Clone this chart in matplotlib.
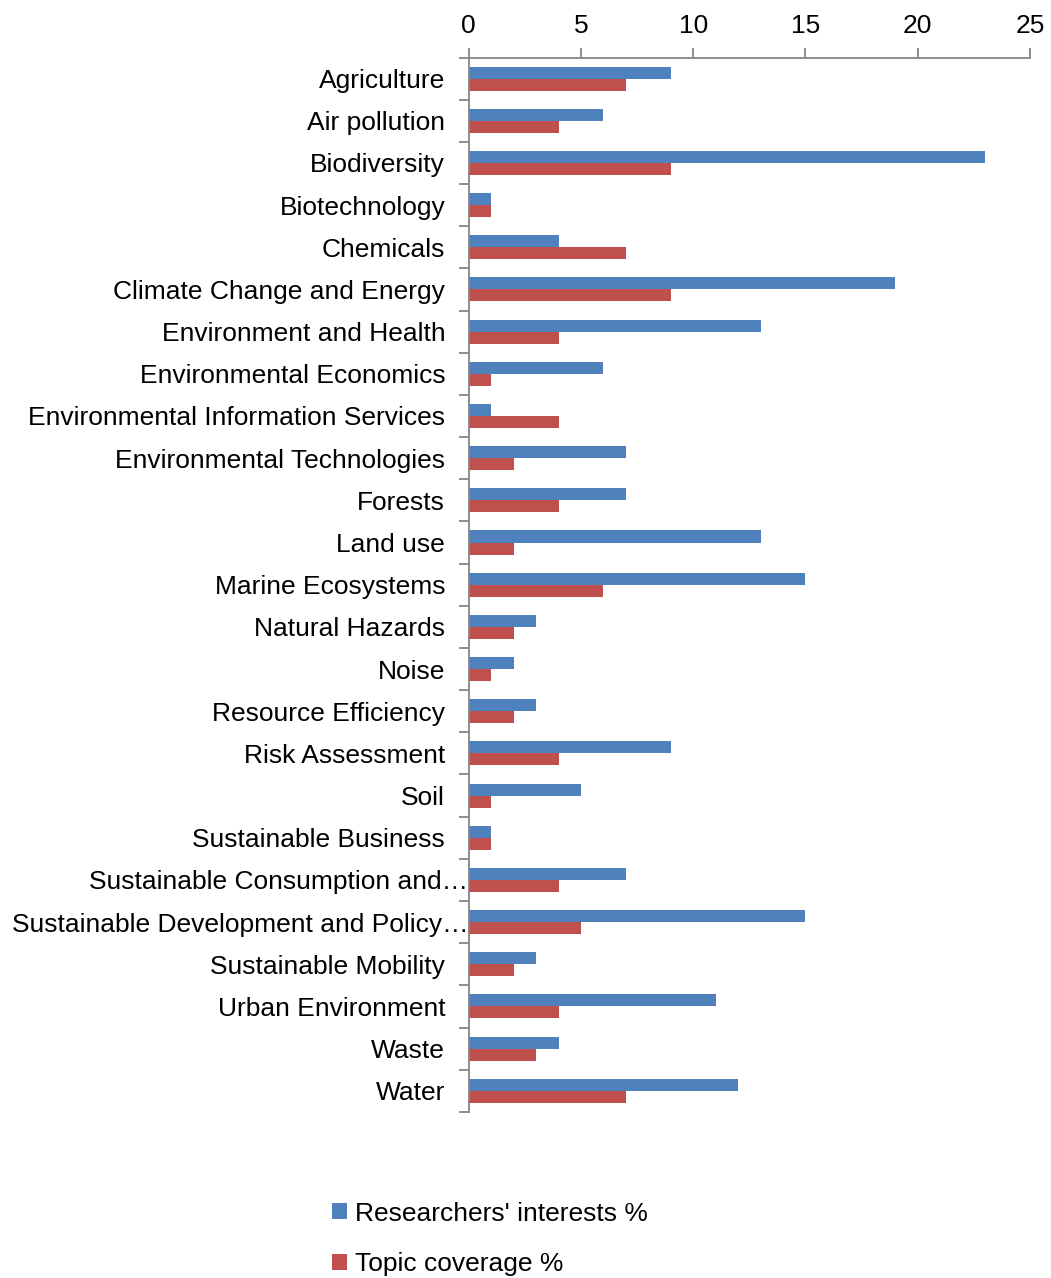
import numpy as np
import matplotlib.pyplot as plt
from matplotlib.transforms import ScaledTranslation

plt.rcParams['font.family'] = ['Liberation Sans', 'DejaVu Sans']

topics = ["Agriculture", "Air pollution", "Biodiversity", "Biotechnology", "Chemicals",
          "Climate Change and Energy", "Environment and Health", "Environmental Economics",
          "Environmental Information Services", "Environmental Technologies", "Forests",
          "Land use", "Marine Ecosystems", "Natural Hazards", "Noise", "Resource Efficiency",
          "Risk Assessment", "Soil", "Sustainable Business", "Sustainable Consumption and\u2026",
          "Sustainable Development and Policy\u2026", "Sustainable Mobility",
          "Urban Environment", "Waste", "Water"]
interests = [9, 6, 23, 1, 4, 19, 13, 6, 1, 7, 7, 13, 15, 3, 2, 3, 9, 5, 1, 7, 15, 3, 11, 4, 12]
coverage = [7, 4, 9, 1, 7, 9, 4, 1, 4, 2, 4, 2, 6, 2, 1, 2, 4, 1, 1, 4, 5, 2, 4, 3, 7]

blue = "#4F81BD"
red = "#C0504D"
grey = "#868686"

fig = plt.figure(figsize=(10.51, 12.78), dpi=100)
ax = fig.add_axes([0.446, 0.130, 0.534, 0.825])

y = np.arange(len(topics))
h = 0.285
ax.barh(y - h / 2, interests, height=h, color=blue, label="Researchers' interests %")
ax.barh(y + h / 2, coverage, height=h, color=red, label="Topic coverage %")

ax.set_ylim(len(topics) - 0.5, -0.5)
ax.set_xlim(0, 25)
ax.set_xticks([0, 5, 10, 15, 20, 25])
ax.xaxis.tick_top()
ax.set_yticks(y)
ax.set_yticklabels(topics)
ax.set_yticks(np.arange(len(topics) + 1) - 0.5, minor=True)
ax.tick_params(axis='y', which='major', length=0, pad=17, labelsize=19)
ax.tick_params(axis='y', which='minor', length=7, color=grey, width=1.3)
ax.tick_params(axis='x', length=7, color=grey, width=1.3, labelsize=19, pad=7)

# truncated labels run right up to the axis
for lab in ax.get_yticklabels():
    if lab.get_text().endswith("\u2026"):
        lab.set_transform(lab.get_transform() + ScaledTranslation(0.23, 0, fig.dpi_scale_trans))

for s in ['right', 'bottom']:
    ax.spines[s].set_visible(False)
for s in ['top', 'left']:
    ax.spines[s].set_color(grey)
    ax.spines[s].set_linewidth(1.3)

fig.legend(loc='upper left', bbox_to_anchor=(0.306, 0.068), frameon=False, fontsize=19,
           handlelength=0.55, handleheight=0.55, handletextpad=0.3, labelspacing=1.0,
           borderaxespad=0)

fig.savefig("out.png", dpi=100)
